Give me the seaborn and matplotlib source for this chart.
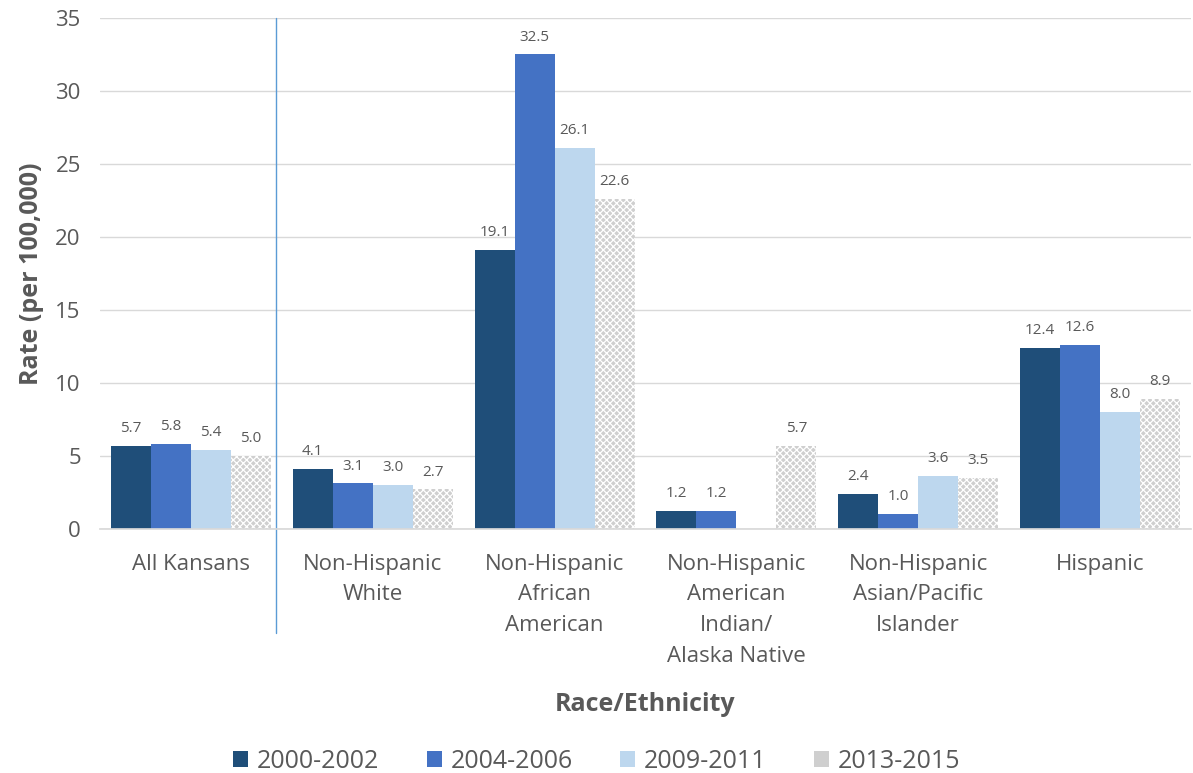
import numpy as np
import pandas as pd
import matplotlib
matplotlib.use("Agg")
import matplotlib.pyplot as plt
import seaborn as sns

groups = ["All Kansans", "Non-Hispanic\nWhite", "Non-Hispanic\nAfrican\nAmerican",
          "Non-Hispanic\nAmerican\nIndian/\nAlaska Native",
          "Non-Hispanic\nAsian/Pacific\nIslander", "Hispanic"]
periods = ["2000-2002", "2004-2006", "2009-2011", "2013-2015"]
rate_2000_2002 = [5.7, 4.1, 19.1, 1.2, 2.4, 12.4]
rate_2004_2006 = [5.8, 3.1, 32.5, 1.2, 1.0, 12.6]
rate_2009_2011 = [5.4, 3.0, 26.1, np.nan, 3.6, 8.0]
rate_2013_2015 = [5.0, 2.7, 22.6, 5.7, 3.5, 8.9]

series = [rate_2000_2002, rate_2004_2006, rate_2009_2011, rate_2013_2015]
df = pd.DataFrame({
    "group": np.repeat([groups], 4, axis=0).ravel(),
    "period": np.repeat(periods, len(groups)),
    "rate": np.concatenate(series),
})

colors = ["#1f4e79", "#4472c4", "#bdd7ee", "#cfcfcf"]
text_color = "#595959"

sns.set_theme(style="white")
plt.rcParams["font.family"] = ["Open Sans", "DejaVu Sans"]
plt.rcParams["hatch.linewidth"] = 0.9
plt.rcParams["hatch.color"] = "white"

fig = plt.figure(figsize=(11.93, 7.73), dpi=100)
ax = fig.add_axes([0.084, 0.316, 0.914, 0.661])

sns.barplot(data=df, x="group", y="rate", hue="period", order=groups,
            hue_order=periods, palette=colors, width=0.88, ax=ax,
            saturation=1, legend=True, linewidth=0)

# Patterned fill for the latest period
for bar in ax.containers[3]:
    bar.set_hatch("xxxxx")
    bar.set_edgecolor("white")
    bar.set_linewidth(0)

for cont in ax.containers:
    labels = ["" if np.isnan(b.get_height()) else f"{b.get_height():.1f}" for b in cont]
    ax.bar_label(cont, labels=labels, padding=7, fontsize=11, color=text_color)

ax.set_ylim(0, 35)
ax.set_xlim(-0.5, 5.5)
ax.set_yticks(range(0, 36, 5))
ax.yaxis.grid(True, color="#d9d9d9", linewidth=1)
ax.set_axisbelow(True)
for s in ["top", "right", "left"]:
    ax.spines[s].set_visible(False)
ax.spines["bottom"].set_color("#d9d9d9")
ax.tick_params(axis="both", length=0, labelsize=16, labelcolor=text_color)
ax.tick_params(axis="x", pad=18)
ax.tick_params(axis="y", pad=14)
ax.set_ylabel("Rate (per 100,000)", fontsize=18, fontweight="bold", color=text_color, labelpad=8)
ax.set_xlabel("Race/Ethnicity", fontsize=18, fontweight="bold", color=text_color, labelpad=18)
for lbl in ax.get_xticklabels():
    lbl.set_linespacing(1.6)

# Divider between the statewide total and the subgroups
ax.axvline(0.47, ymin=-0.204, ymax=1.0, color="#5b9bd5", linewidth=1, clip_on=False)

handles, labs = ax.get_legend_handles_labels()
ax.legend(handles, labs, loc="lower center", ncol=4, frameon=False, fontsize=18,
          handlelength=0.6, handleheight=0.6, columnspacing=1.9, handletextpad=0.35,
          labelcolor=text_color)
leg = ax.get_legend()
leg.set_bbox_to_anchor((0.5, -0.03), transform=fig.transFigure)

fig.savefig("out.png", dpi=100)
